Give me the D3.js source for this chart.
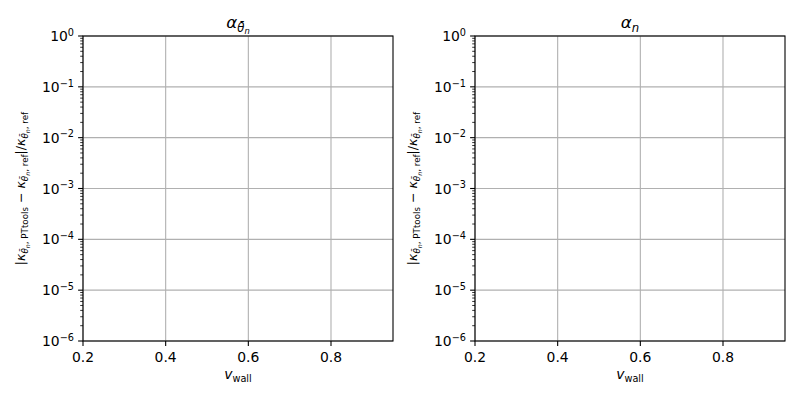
<!DOCTYPE html>
<html><head><meta charset="utf-8">
<script src="https://cdn.jsdelivr.net/npm/d3@7"></script>
<style>body{margin:0;background:#fff}svg{display:block}text{font-family:"DejaVu Sans",sans-serif;fill:#000}</style>
</head><body><svg id="c" width="800" height="400"></svg>
<script>
// Data (the reference panels contain no plotted series)
const panelTitles = ["alphaThetaBar", "alphaN"];
const xDomain = [0.2, 0.95];
const yDomain = [1e-6, 1e0];
const xTicks = [0.2, 0.4, 0.6, 0.8];
const yTickExponents = [-6, -5, -4, -3, -2, -1, 0];
const seriesLeft = [];   // no visible data
const seriesRight = [];  // no visible data

const svg = d3.select("#c");
const FS = 13.9;
const panels = [
  {x0: 83, x1: 393, title: [{t:"α",lvl:0,it:true},{t:"θ̄",lvl:1,it:true},{t:"n",lvl:2,it:true}], data: seriesLeft},
  {x0: 475, x1: 785, title: [{t:"α",lvl:0,it:true},{t:"n",lvl:1,it:true}], data: seriesRight}
];
const y0 = 36, y1 = 341;

function mathText(sel, segs, base, anchor) {
  const sizes = [base, base*0.7, base*0.5];
  const shifts = [0, base*0.22, base*0.36];
  const t = sel.append("text").attr("text-anchor", anchor || "middle").style("font-size", base+"px");
  let cur = 0;
  segs.forEach(s => {
    const target = s.sup ? -base*0.38 : shifts[s.lvl];
    t.append("tspan").attr("dy", target - cur)
      .style("font-size", (s.sup ? base*0.7 : sizes[s.lvl]) + "px")
      .style("font-style", s.it ? "italic" : "normal")
      .text(s.t);
    cur = target;
  });
  return t;
}

panels.forEach(p => {
  const g = svg.append("g");
  const x = d3.scaleLinear().domain(xDomain).range([p.x0, p.x1]);
  const y = d3.scaleLog().domain(yDomain).range([y1, y0]);
  // grid
  xTicks.forEach(v => g.append("line").attr("x1", x(v)).attr("x2", x(v)).attr("y1", y0).attr("y2", y1)
    .attr("stroke", "#b0b0b0").attr("stroke-width", 1.1));
  yTickExponents.forEach(e => g.append("line").attr("x1", p.x0).attr("x2", p.x1).attr("y1", y(Math.pow(10,e))).attr("y2", y(Math.pow(10,e)))
    .attr("stroke", "#b0b0b0").attr("stroke-width", 1.1));
  // series (none)
  const line = d3.line().x(d => x(d[0])).y(d => y(d[1]));
  p.data.forEach(s => g.append("path").attr("d", line(s)).attr("fill", "none").attr("stroke", "#1f77b4"));
  // frame
  g.append("rect").attr("x", p.x0).attr("y", y0).attr("width", p.x1 - p.x0).attr("height", y1 - y0)
    .attr("fill", "none").attr("stroke", "#000").attr("stroke-width", 1.1);
  // x ticks
  xTicks.forEach(v => {
    g.append("line").attr("x1", x(v)).attr("x2", x(v)).attr("y1", y1).attr("y2", y1 + 4.9).attr("stroke", "#000").attr("stroke-width", 1.1);
    g.append("text").attr("x", x(v)).attr("y", y1 + 21).attr("text-anchor", "middle").style("font-size", FS+"px").text(d3.format(".1f")(v));
  });
  // y major ticks
  yTickExponents.forEach(e => {
    const yy = y(Math.pow(10, e));
    g.append("line").attr("x1", p.x0 - 4.9).attr("x2", p.x0).attr("y1", yy).attr("y2", yy).attr("stroke", "#000").attr("stroke-width", 1.1);
    const t = mathText(g, [{t:"10",lvl:0},{t:(e<0?"−":"")+Math.abs(e),sup:true}], FS, "end");
    t.attr("x", p.x0 - 9).attr("y", yy + 5);
  });
  // y minor ticks
  for (let e = -6; e < 0; e++) {
    for (let k = 2; k <= 9; k++) {
      const yy = y(k * Math.pow(10, e));
      g.append("line").attr("x1", p.x0 - 2.8).attr("x2", p.x0).attr("y1", yy).attr("y2", yy).attr("stroke", "#000").attr("stroke-width", 0.8);
    }
  }
  // title
  const cx = (p.x0 + p.x1) / 2;
  mathText(g, p.title, 16.7, "middle").attr("x", cx).attr("y", 28);
  // x label
  mathText(g, [{t:"v",lvl:0,it:true},{t:"wall",lvl:1}], FS, "middle").attr("x", cx).attr("y", 379);
  // y label
  const ylab = [
    {t:"|κ",lvl:0,it:true},{t:"θ̄",lvl:1,it:true},{t:"n",lvl:2,it:true},{t:", PTtools",lvl:1},
    {t:" − κ",lvl:0,it:true},{t:"θ̄",lvl:1,it:true},{t:"n",lvl:2,it:true},{t:", ref",lvl:1},
    {t:"|/κ",lvl:0,it:true},{t:"θ̄",lvl:1,it:true},{t:"n",lvl:2,it:true},{t:", ref",lvl:1}
  ];
  const yl = mathText(g, ylab, 12.5, "middle").attr("x", 0).attr("y", 0)
    .attr("transform", `translate(${p.x0 - 58},${(y0 + y1) / 2}) rotate(-90)`);
  yl.selectAll("tspan").filter((d,i)=>i===0||i===4||i===8).each(function(){
    const s = d3.select(this); const txt = s.text();
    // keep bars/minus upright
    s.text("");
    const m = txt.match(/^(\W*?)(κ)$/u);
    if (m) { s.append("tspan").style("font-style","normal").text(m[1]); s.append("tspan").style("font-style","italic").text(m[2]); }
    else s.text(txt);
  });
});
</script></body></html>
